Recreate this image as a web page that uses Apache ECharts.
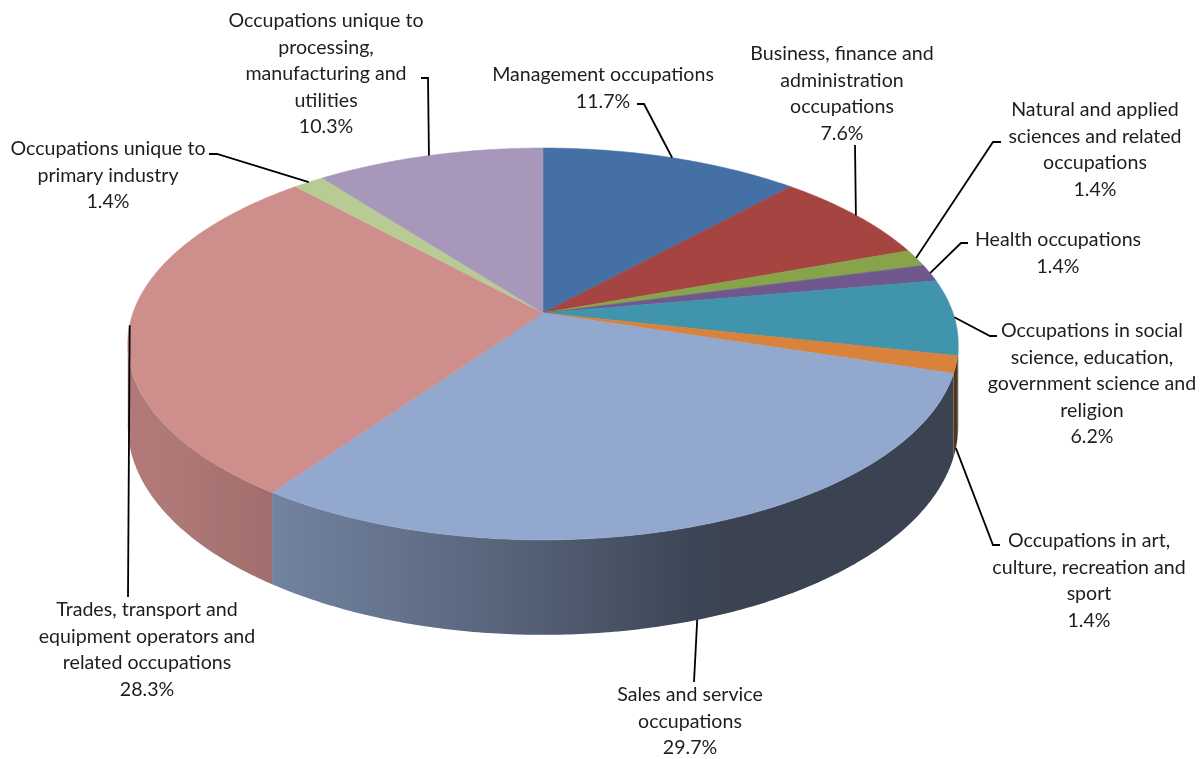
<!DOCTYPE html>
<html>
<head>
<meta charset="utf-8">
<script src="https://cdn.jsdelivr.net/npm/echarts@6/dist/echarts.min.js"></script>
<style>
  html, body { margin: 0; padding: 0; background: #fff; }
  #chart { width: 1204px; height: 759px; }
</style>
</head>
<body>
<div id="chart"></div>
<script>
// ── data ──
const categories = [
  "Management occupations",
  "Business, finance and\nadministration\noccupations",
  "Natural and applied\nsciences and related\noccupations",
  "Health occupations",
  "Occupations in social\nscience, education,\ngovernment science and\nreligion",
  "Occupations in art,\nculture, recreation and\nsport",
  "Sales and service\noccupations",
  "Trades, transport and\nequipment operators and\nrelated occupations",
  "Occupations unique to\nprimary industry",
  "Occupations unique to\nprocessing,\nmanufacturing and\nutilities"
];
const shares = [11.7, 7.6, 1.4, 1.4, 6.2, 1.4, 29.7, 28.3, 1.4, 10.3];
const colors = ["#4470A5", "#A64442", "#87A44B", "#70578D", "#4095AD",
                "#D8823B", "#93A8CE", "#CE8E8C", "#B8CB95", "#A798BB"];

// ── label layout: text centre x, first line centre y ──
const labelPos = [[603, 75], [842, 54], [1095, 110], [1058, 240], [1092, 331],
                  [1089, 541], [690, 695], [147, 610], [108, 149], [326, 21]];
// leader start point and elbow, the end is taken from the slice
const leaderFrom = [
  [[637, 104], [644, 104]],
  [[855, 145], [855, 145]],
  [[1001, 142], [993, 142]],
  [[968, 243], [961, 243]],
  [[997, 336], [990, 336]],
  [[1000, 545], [993, 545]],
  [[694, 682], [694, 682]],
  [[128, 597], [128, 597]],
  [[209, 154], [217, 154]],
  [[421, 78], [428, 78]]
];
const leaderToBase = [false, false, false, false, false, true, true, false, false, false];

// ── 3d pie geometry ──
const CX = 543, CY = 313, SX = 410, SY = 191, K = 0.158, H = 80;
const LINE_H = 26.4;
const V0 = Math.acos(-K), V1 = Math.PI * 2 - V0;

const total = shares.reduce((a, b) => a + b, 0);
const starts = [];
let acc = 0;
shares.forEach(v => { starts.push(acc); acc += v; });

function ang(v){ return v / total * Math.PI * 2; }
function pt(t, d){
  const f = 1 / (1 + K * Math.cos(t));
  return [CX + SX * Math.sin(t) * f, CY - SY * Math.cos(t) * f + d * H * f];
}
function shade(hex, r){
  const n = parseInt(hex.slice(1), 16);
  const c = [(n >> 16) & 255, (n >> 8) & 255, n & 255].map(x => Math.round(x * r));
  return "rgb(" + c.join(",") + ")";
}
function sideRatio(t){
  return 0.40 + 0.46 * Math.max(0, Math.cos(t - 250 * Math.PI / 180));
}

function renderItem(params, api){
  const i = params.dataIndex;
  const a0 = ang(starts[i]), a1 = ang(starts[i] + shares[i]);
  const children = [];

  // side wall (only the part that faces us), shaded with a horizontal gradient
  const lo = Math.max(a0, V0), hi = Math.min(a1, V1);
  if(hi > lo){
    const n = Math.max(2, Math.ceil((hi - lo) / 0.01));
    const upper = [], lower = [];
    for(let j = 0; j <= n; j++){
      const t = lo + (hi - lo) * j / n;
      upper.push(pt(t, 0));
      lower.unshift(pt(t, 1));
    }
    const xl = pt(hi, 0)[0], xr = pt(lo, 0)[0];
    const stops = [];
    const ns = 16;
    for(let j = 0; j <= ns; j++){
      const t = hi - (hi - lo) * j / ns;
      const off = xr > xl ? (pt(t, 0)[0] - xl) / (xr - xl) : 0;
      stops.push({ offset: Math.min(1, Math.max(0, off)), color: shade(colors[i], sideRatio(t)) });
    }
    stops.sort((p, q) => p.offset - q.offset);
    children.push({
      type: "polygon", z2: 1,
      shape: { points: upper.concat(lower) },
      style: {
        fill: { type: "linear", x: xl, y: 0, x2: Math.max(xr, xl + 1), y2: 0, global: true, colorStops: stops },
        lineWidth: 0
      }
    });
  }

  // top face
  const top = [[CX, CY]];
  const m = Math.max(2, Math.ceil((a1 - a0) / 0.01));
  for(let j = 0; j <= m; j++) top.push(pt(a0 + (a1 - a0) * j / m, 0));
  children.push({
    type: "polygon", z2: 10,
    shape: { points: top },
    style: { fill: colors[i], stroke: colors[i], lineWidth: 0.6 }
  });

  // leader line
  const mid = (a0 + a1) / 2;
  const end = pt(mid, leaderToBase[i] ? 1 : 0);
  children.push({
    type: "polyline", z2: 20,
    shape: { points: [leaderFrom[i][0], leaderFrom[i][1], end] },
    style: { stroke: "#000", lineWidth: 1.8, fill: null }
  });

  // label
  children.push({
    type: "text", z2: 30,
    style: {
      text: categories[i] + "\n" + shares[i].toFixed(1) + "%",
      x: labelPos[i][0], y: labelPos[i][1] - LINE_H / 2,
      align: "center", verticalAlign: "top",
      font: "19.6px Lato", lineHeight: LINE_H, fill: "#1e1e1e"
    }
  });

  return { type: "group", children };
}

const chart = echarts.init(document.getElementById("chart"), null, { renderer: "canvas" });
chart.setOption({
  animation: false,
  backgroundColor: "#fff",
  series: [{
    type: "custom",
    coordinateSystem: "none",
    silent: true,
    renderItem,
    data: shares.map((v, i) => ({ value: v, name: categories[i] }))
  }]
});
</script>
</body>
</html>
